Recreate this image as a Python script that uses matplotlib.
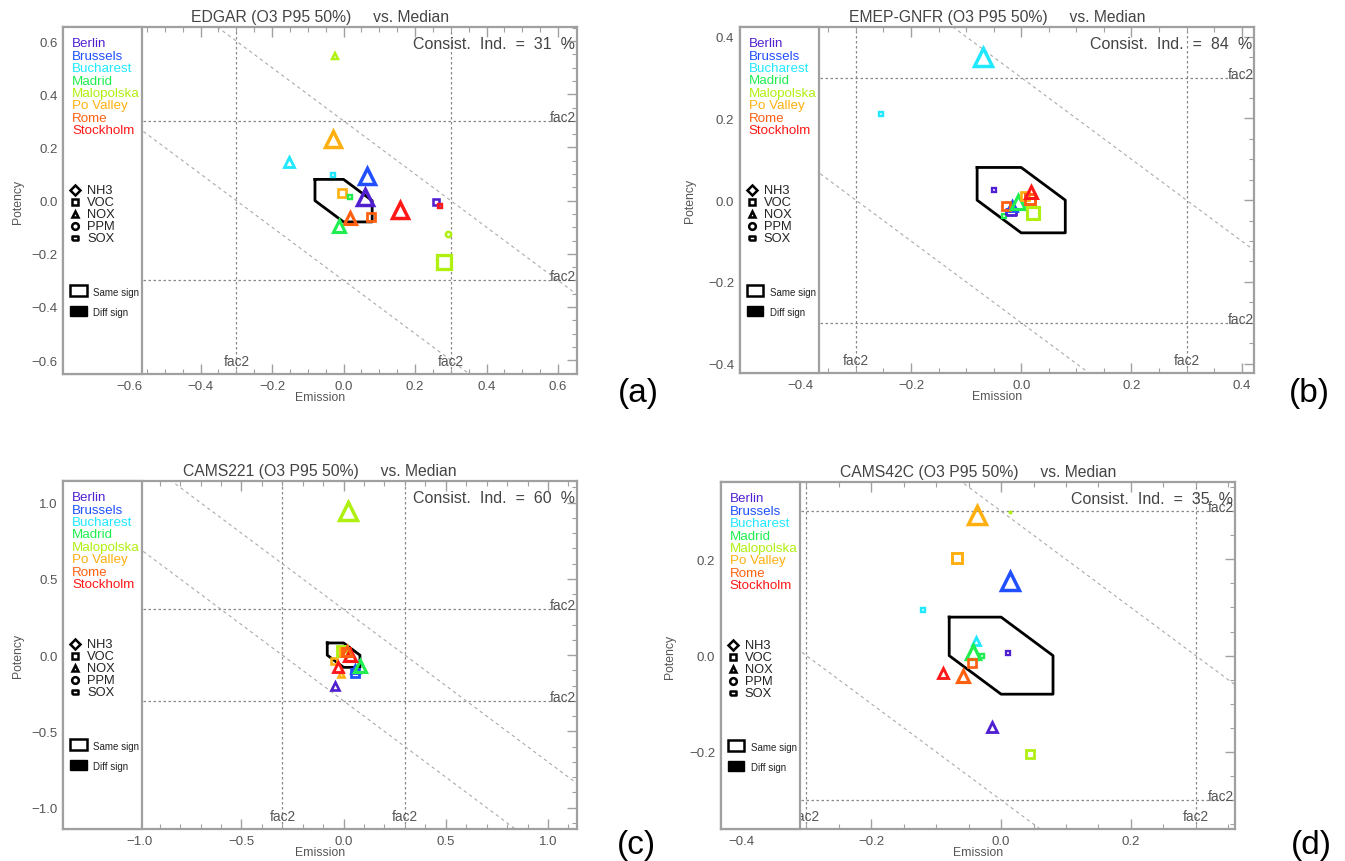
import matplotlib
matplotlib.use('Agg')
import matplotlib.pyplot as plt
from matplotlib.patches import Rectangle
from matplotlib.ticker import MultipleLocator, FuncFormatter
import matplotlib.transforms as mtransforms

plt.rcParams['font.family'] = ['Liberation Sans', 'DejaVu Sans']

# ---------------- data ----------------
cities = ['Berlin', 'Brussels', 'Bucharest', 'Madrid', 'Malopolska',
          'Po Valley', 'Rome', 'Stockholm']
precursors = ['NH3', 'VOC', 'NOX', 'PPM', 'SOX']
titles = ['EDGAR (O3 P95 50%)     vs. Median',
          'EMEP-GNFR (O3 P95 50%)     vs. Median',
          'CAMS221 (O3 P95 50%)     vs. Median',
          'CAMS42C (O3 P95 50%)     vs. Median']
consist = [31, 84, 60, 35]
tags = ['(a)', '(b)', '(c)', '(d)']

# hexagon of "same sign" target zone
hex_x = [-0.08, 0.0, 0.08, 0.08, 0.0, -0.08, -0.08]
hex_y = [0.08, 0.08, 0.0, -0.08, -0.08, 0.0, 0.08]

# panel (a) EDGAR
a_city = ['Malopolska', 'Po Valley', 'Bucharest', 'Bucharest', 'Brussels', 'Po Valley',
          'Madrid', 'Berlin', 'Berlin', 'Stockholm', 'Stockholm', 'Rome', 'Rome',
          'Madrid', 'Malopolska', 'Malopolska']
a_prec = ['NOX', 'NOX', 'NOX', 'VOC', 'NOX', 'VOC', 'VOC', 'NOX', 'VOC', 'VOC',
          'NOX', 'NOX', 'VOC', 'NOX', 'PPM', 'VOC']
a_emis = [-0.025, -0.030, -0.153, -0.030, 0.065, -0.004, 0.019, 0.059, 0.260, 0.271,
          0.159, 0.018, 0.077, -0.012, 0.292, 0.280]
a_pot = [0.545, 0.231, 0.147, 0.097, 0.092, 0.028, 0.013, 0.014, -0.006, -0.019,
         -0.035, -0.064, -0.063, -0.095, -0.124, -0.230]
a_mag = [6, 17, 10, 5, 17, 8, 5, 17, 7, 5, 17, 13, 9, 13, 6, 15]

# panel (b) EMEP-GNFR
b_city = ['Bucharest', 'Bucharest', 'Berlin', 'Madrid', 'Berlin', 'Brussels', 'Rome',
          'Madrid', 'Malopolska', 'Po Valley', 'Rome', 'Stockholm']
b_prec = ['VOC', 'NOX', 'VOC', 'VOC', 'SOX', 'NOX', 'VOC', 'NOX', 'VOC', 'VOC',
          'VOC', 'NOX']
b_emis = [-0.254, -0.069, -0.049, -0.031, -0.019, -0.017, -0.028, -0.005, 0.022,
          0.006, 0.016, 0.017]
b_pot = [0.211, 0.351, 0.025, -0.040, -0.028, -0.015, -0.014, -0.005, -0.032,
         0.010, 0.004, 0.019]
b_mag = [5, 18, 4, 4, 10, 10, 9, 14, 13, 9, 11, 12]

# panel (c) CAMS221
c_city = ['Malopolska', 'Berlin', 'Po Valley', 'Po Valley', 'Brussels', 'Brussels',
          'Madrid', 'Stockholm', 'Malopolska', 'Po Valley', 'Rome', 'Stockholm', 'Rome']
c_prec = ['NOX', 'NOX', 'NOX', 'VOC', 'VOC', 'NOX', 'NOX', 'NOX', 'VOC', 'VOC',
          'VOC', 'NOX', 'NOX']
c_emis = [0.021, -0.040, -0.011, -0.048, 0.058, 0.055, 0.079, -0.029, -0.007,
          0.000, 0.012, 0.030, 0.017]
c_pot = [0.946, -0.200, -0.124, -0.037, -0.114, -0.088, -0.070, -0.077, 0.028,
         0.018, 0.020, 0.003, 0.028]
c_mag = [18, 8, 7, 7, 9, 9, 13, 10, 10, 9, 9, 13, 10]

# panel (d) CAMS42C
d_city = ['Po Valley', 'Malopolska', 'Po Valley', 'Brussels', 'Bucharest', 'Bucharest',
          'Madrid', 'Madrid', 'Berlin', 'Rome', 'Stockholm', 'Rome', 'Berlin',
          'Malopolska']
d_prec = ['NOX', 'VOC', 'VOC', 'NOX', 'VOC', 'NOX', 'NOX', 'VOC', 'VOC', 'VOC',
          'NOX', 'NOX', 'NOX', 'VOC']
d_emis = [-0.037, 0.013, -0.068, 0.014, -0.120, -0.038, -0.043, -0.029, 0.011,
          -0.045, -0.090, -0.058, -0.014, 0.045]
d_pot = [0.292, 0.299, 0.203, 0.154, 0.095, 0.031, 0.008, 0.000, 0.006, -0.016,
         -0.036, -0.043, -0.148, -0.204]
d_mag = [18, 2, 11, 18, 5, 9, 15, 5, 4, 8, 10, 13, 10, 9]

# ---------------- style ----------------
city_colors = {'Berlin': '#5020d0', 'Brussels': '#2050ff', 'Bucharest': '#20e8ff',
               'Madrid': '#20ee50', 'Malopolska': '#b0f010', 'Po Valley': '#ffb010',
               'Rome': '#ff6010', 'Stockholm': '#ff1818'}
sox_marker = [(-1, -0.6), (1, -0.6), (1, 0.6), (-1, 0.6), (-1, -0.6)]
prec_marker = {'NH3': 'D', 'VOC': 's', 'NOX': '^', 'PPM': 'o', 'SOX': sox_marker}

W, H = 1345, 862
fig = plt.figure(figsize=(W / 100, H / 100), dpi=100)

# frame pixel boxes: left, top, right, bottom
frames = [(63, 28.3, 576.6, 375), (739.6, 28.3, 1254.3, 374),
          (63, 482.3, 576.6, 830), (720.8, 483.3, 1234.7, 830)]
xlo = [-0.785, -0.511, -1.373, -0.432]
lim = [0.652, 0.423, 1.14, 0.36]
major = [0.2, 0.2, 0.5, 0.2]
minor = [0.05, 0.05, 0.1, 0.05]
ylab_x = [18, 690, 18, 670]
tag_pos = [(638, 394), (1309, 394), (636, 846), (1311, 846)]
legend_w = 79

panels = [(a_city, a_prec, a_emis, a_pot, a_mag),
          (b_city, b_prec, b_emis, b_pot, b_mag),
          (c_city, c_prec, c_emis, c_pot, c_mag),
          (d_city, d_prec, d_emis, d_pot, d_mag)]

GRAY = '#a0a0a0'
TXT = '#555555'


def fmt(v, pos):
    s = f'{v:.1f}'
    if s == '-0.0':
        s = '0.0'
    return s.replace('-', '\u2212')


for i, (fr, data) in enumerate(zip(frames, panels)):
    l, t, r, b = fr
    fw, fh = r - l, b - t
    ax = fig.add_axes([l / W, 1 - b / H, fw / W, fh / H])
    ax.set_xlim(xlo[i], lim[i])
    ax.set_ylim(-lim[i], lim[i])
    for sp in ax.spines.values():
        sp.set_color(GRAY)
        sp.set_linewidth(1.6)
    ax.xaxis.set_major_locator(MultipleLocator(major[i]))
    ax.yaxis.set_major_locator(MultipleLocator(major[i]))
    ax.xaxis.set_minor_locator(MultipleLocator(minor[i]))
    ax.yaxis.set_minor_locator(MultipleLocator(minor[i]))
    ax.xaxis.set_major_formatter(FuncFormatter(fmt))
    ax.yaxis.set_major_formatter(FuncFormatter(fmt))
    ax.tick_params(which='both', direction='in', top=True, right=True,
                   color=GRAY, labelcolor=TXT, labelsize=9.5)
    ax.tick_params(which='major', length=7, width=1)
    ax.tick_params(which='minor', length=3.5, width=0.8)
    ax.tick_params(axis='x', pad=4)
    ax.tick_params(axis='y', pad=4)

    # fac2 lines
    for v in (-0.3, 0.3):
        ax.axvline(v, color='#888888', lw=0.9, ls=(0, (2, 2)), zorder=1)
        ax.axhline(v, color='#888888', lw=0.9, ls=(0, (2, 2)), zorder=1)
    big = 3.0
    for c in (-0.3, 0.3):
        ax.plot([-big, big], [c + big, c - big], color='#aaaaaa', lw=0.8,
                ls=(0, (3, 3)), zorder=1)
    tb = mtransforms.blended_transform_factory(ax.transData, ax.transAxes)
    off = mtransforms.offset_copy(ax.transData, fig=fig, x=0, y=4, units='dots')
    tr = mtransforms.blended_transform_factory(
        mtransforms.offset_copy(ax.transAxes, fig=fig, x=-1, y=0, units='dots'), off)
    for v in (-0.3, 0.3):
        ax.text(v, 13 / fh, 'fac2', transform=tb, ha='center', va='center',
                fontsize=9.8, color=TXT, zorder=2)
        ax.text(1.0, v, 'fac2', transform=tr, ha='right', va='center',
                fontsize=9.8, color=TXT, zorder=2)

    # hexagon
    ax.plot(hex_x, hex_y, color='black', lw=2.0, zorder=3)

    # points
    city, prec, ex, py, mag = data
    for cc, pp, xx, yy, mm in zip(city, prec, ex, py, mag):
        mew = min(2.5, 1.4 + 0.065 * mm)
        ax.plot([xx], [yy], marker=prec_marker[pp], ms=max(mm * 0.78 - mew * 0.5, 1.0),
                mfc='none', mec=city_colors[cc], mew=mew, ls='none', zorder=4)

    # consistency index
    ax.text(1 - 2 / fw, 1 - 16 / fh, f'Consist.  Ind.  =  {consist[i]}  %',
            transform=ax.transAxes, ha='right', va='center', fontsize=11.5,
            color='#444444', zorder=6)

    # legend box
    lw_ax = legend_w / fw
    ax.add_patch(Rectangle((0, 0), lw_ax, 1, transform=ax.transAxes, fc='white',
                           ec=GRAY, lw=1.6, zorder=7, clip_on=False))

    def P(dx, dy):
        return dx / fw, 1 - dy / fh

    for k, cname in enumerate(cities):
        x0, y0 = P(9, 16 + 12.4 * k)
        ax.text(x0, y0, cname, transform=ax.transAxes, ha='left', va='center',
                fontsize=9.6, color=city_colors[cname], zorder=8)
    for k, pname in enumerate(precursors):
        xs, ys = P(12.3, 162.7 + 12.1 * k)
        ax.plot([xs], [ys], marker=prec_marker[pname], ms=4.8, mfc='none', mec='black',
                mew=1.8, transform=ax.transAxes, zorder=8, clip_on=False)
        xt, yt = P(24, 162.7 + 12.1 * k)
        ax.text(xt, yt, pname, transform=ax.transAxes, ha='left', va='center',
                fontsize=9.3, color='#222222', zorder=8)
    x0, y0 = P(7, 268.4)
    ax.add_patch(Rectangle((x0, y0), 16.5 / fw, 10.5 / fh, transform=ax.transAxes,
                           fc='white', ec='black', lw=1.8, zorder=8))
    ax.text(*P(30, 264.5), 'Same sign', transform=ax.transAxes, ha='left',
            va='center', fontsize=7.0, color='#222222', zorder=8)
    x0, y0 = P(7, 288.7)
    ax.add_patch(Rectangle((x0, y0), 16.5 / fw, 10 / fh, transform=ax.transAxes,
                           fc='black', ec='black', lw=1.0, zorder=8))
    ax.text(*P(30, 284.5), 'Diff sign', transform=ax.transAxes, ha='left',
            va='center', fontsize=7.0, color='#222222', zorder=8)

    # titles and labels
    cx = (l + r) / 2
    fig.text(cx / W, 1 - (t - 11) / H, titles[i], ha='center', va='center',
             fontsize=11.3, color='#444444')
    fig.text(cx / W, 1 - (b + 23) / H, 'Emission', ha='center', va='center',
             fontsize=8.8, color=TXT)
    fig.text(ylab_x[i] / W, 1 - ((t + b) / 2) / H, 'Potency', ha='center',
             va='center', rotation=90, fontsize=8.8, color=TXT)
    fig.text(tag_pos[i][0] / W, 1 - tag_pos[i][1] / H, tags[i], ha='center',
             va='center', fontsize=24, color='black')

fig.savefig('out.png', dpi=100)
